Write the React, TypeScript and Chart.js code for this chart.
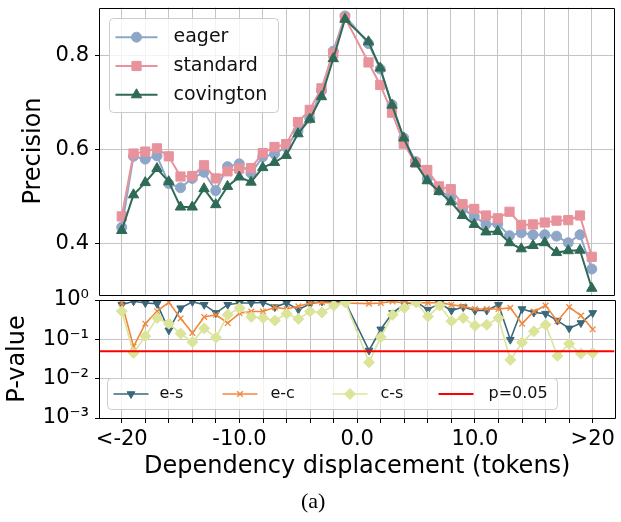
import React, { useEffect, useRef } from 'react';
import { Chart, registerables } from 'chart.js';
import { drawPoint } from 'chart.js/helpers';

Chart.register(...registerables);

// ---------- data ----------
const displacements = [
  -20, -19, -18, -17, -16, -15, -14, -13, -12, -11, -10, -9, -8, -7, -6, -5, -4, -3, -2, -1,
  1, 2, 3, 4, 5, 6, 7, 8, 9, 10, 11, 12, 13, 14, 15, 16, 17, 18, 19, 20,
];

const eagerPrecision = [
  0.434, 0.585, 0.579, 0.586, 0.527, 0.518, 0.538, 0.551, 0.512, 0.563, 0.569, 0.549, 0.584, 0.590, 0.605, 0.639, 0.666, 0.725, 0.809, 0.884,
  0.825, 0.771, 0.695, 0.624, 0.574, 0.537, 0.513, 0.497, 0.473, 0.457, 0.440, 0.441, 0.416, 0.422, 0.418, 0.418, 0.415, 0.401, 0.418, 0.345,
];
const standardPrecision = [
  0.457, 0.591, 0.595, 0.602, 0.585, 0.542, 0.543, 0.566, 0.538, 0.553, 0.559, 0.560, 0.592, 0.605, 0.611, 0.658, 0.684, 0.730, 0.804, 0.880,
  0.785, 0.737, 0.678, 0.612, 0.571, 0.556, 0.521, 0.515, 0.483, 0.473, 0.459, 0.453, 0.467, 0.439, 0.440, 0.444, 0.448, 0.449, 0.459, 0.371,
];
const covingtonPrecision = [
  0.427, 0.503, 0.529, 0.559, 0.531, 0.477, 0.477, 0.516, 0.482, 0.521, 0.541, 0.530, 0.561, 0.572, 0.587, 0.633, 0.664, 0.712, 0.793, 0.877,
  0.829, 0.773, 0.694, 0.624, 0.570, 0.533, 0.510, 0.488, 0.459, 0.440, 0.424, 0.425, 0.401, 0.388, 0.395, 0.401, 0.380, 0.384, 0.385, 0.304,
];

const pEagerStandard = [
  0.76, 0.93, 0.84, 0.80, 0.17, 0.62, 0.90, 0.76, 0.47, 0.76, 0.84, 0.84, 0.87, 0.66, 0.84, 0.57, 0.80, 0.92, 0.92, 0.87,
  0.052, 0.18, 0.47, 0.78, 0.90, 0.57, 0.82, 0.54, 0.66, 0.54, 0.54, 0.76, 0.098, 0.59, 0.48, 0.45, 0.30, 0.19, 0.26, 0.47,
];
const pEagerCovington = [
  0.85, 0.065, 0.25, 0.52, 0.87, 0.34, 0.145, 0.37, 0.42, 0.26, 0.46, 0.51, 0.51, 0.65, 0.59, 0.69, 0.84, 0.87, 0.84, 0.84,
  0.81, 0.84, 0.92, 0.84, 0.87, 0.84, 0.87, 0.76, 0.69, 0.59, 0.59, 0.59, 0.63, 0.25, 0.51, 0.72, 0.29, 0.66, 0.40, 0.18,
];
const pCovingtonStandard = [
  0.52, 0.045, 0.12, 0.35, 0.25, 0.14, 0.085, 0.19, 0.11, 0.42, 0.63, 0.37, 0.35, 0.30, 0.45, 0.33, 0.51, 0.48, 0.72, 0.87,
  0.026, 0.114, 0.42, 0.63, 0.87, 0.38, 0.72, 0.29, 0.35, 0.22, 0.235, 0.35, 0.030, 0.083, 0.16, 0.235, 0.038, 0.077, 0.043, 0.045,
];
const significanceLevel = 0.05;

const xGridTicks = [-20, -18, -16, -14, -12, -10, -8, -6, -4, -2, 0, 2, 4, 6, 8, 10, 12, 14, 16, 18, 20];
const xLabelTicks = [-20, -10, 0, 10, 20];
const xTickLabels = ['<-20', '-10.0', '0.0', '10.0', '>20'];
const precisionTicks = [0.4, 0.6, 0.8];
const pValueTicks = [1, 0.1, 0.01, 0.001];
const pValueTickLabels = ['10\u2070', '10\u207B\u00B9', '10\u207B\u00B2', '10\u207B\u00B3'];

// ---------- style ----------
const FONT = 'DejaVu Sans';
const GRID = '#c4c4c4';
const C = {
  eager: '#8ea7c8',
  standard: '#e8929c',
  covington: '#2f6a56',
  es: '#3a687a',
  ec: '#f0883c',
  cs: '#dce49a',
  red: '#ff0000',
};
const X_MIN = -21.85;
const X_MAX = 21.85;

const pts = (vals: number[]) => displacements.map((x, i) => ({ x, y: vals[i] }));

type LegendItem = {
  label: string;
  color: string;
  pointStyle?: string;
  rotation?: number;
  radius?: number;
  lineWidth: number;
  pointBorder?: number;
  hx: number;
  hlen: number;
  tx: number;
  ty: number;
};

type LegendCfg = {
  fromBottom: boolean;
  dx: number;
  dy: number;
  width: number;
  height: number;
  fontSize: number;
  items: LegendItem[];
};

function roundRectPath(ctx: CanvasRenderingContext2D, x: number, y: number, w: number, h: number, r: number) {
  ctx.beginPath();
  ctx.moveTo(x + r, y);
  ctx.lineTo(x + w - r, y);
  ctx.arcTo(x + w, y, x + w, y + r, r);
  ctx.lineTo(x + w, y + h - r);
  ctx.arcTo(x + w, y + h, x + w - r, y + h, r);
  ctx.lineTo(x + r, y + h);
  ctx.arcTo(x, y + h, x, y + h - r, r);
  ctx.lineTo(x, y + r);
  ctx.arcTo(x, y, x + r, y, r);
  ctx.closePath();
}

function makeLegendPlugin(id: string, cfg: LegendCfg) {
  return {
    id,
    afterDraw(chart: any) {
      const ctx: CanvasRenderingContext2D = chart.ctx;
      const ca = chart.chartArea;
      const bx = Math.round(ca.left + cfg.dx) + 0.5;
      const by = cfg.fromBottom
        ? Math.round(ca.bottom - cfg.dy - cfg.height) + 0.5
        : Math.round(ca.top + cfg.dy) + 0.5;
      ctx.save();
      roundRectPath(ctx, bx, by, cfg.width, cfg.height, 4);
      ctx.fillStyle = 'rgba(255,255,255,0.8)';
      ctx.fill();
      ctx.strokeStyle = '#cccccc';
      ctx.lineWidth = 1;
      ctx.stroke();
      for (const it of cfg.items) {
        const y = by + it.ty;
        const x0 = bx + it.hx;
        ctx.strokeStyle = it.color;
        ctx.fillStyle = it.color;
        ctx.lineWidth = it.lineWidth;
        ctx.beginPath();
        ctx.moveTo(x0, y);
        ctx.lineTo(x0 + it.hlen, y);
        ctx.stroke();
        if (it.pointStyle) {
          ctx.lineWidth = it.pointBorder ?? 1;
          drawPoint(ctx, {
            pointStyle: it.pointStyle,
            rotation: it.rotation ?? 0,
            radius: it.radius ?? 4,
            borderWidth: it.pointBorder ?? 1,
          } as any, x0 + it.hlen / 2, y);
        }
        ctx.fillStyle = '#111';
        ctx.font = `${cfg.fontSize}px "${FONT}"`;
        ctx.textBaseline = 'middle';
        ctx.textAlign = 'left';
        ctx.fillText(it.label, bx + it.tx, y);
      }
      ctx.restore();
    },
  };
}

const framePlugin = {
  id: 'mplFrame',
  afterDatasetsDraw(chart: any) {
    const ctx: CanvasRenderingContext2D = chart.ctx;
    const ca = chart.chartArea;
    const l = Math.round(ca.left) - 0.5;
    const r = Math.round(ca.right) + 0.5;
    const t = Math.round(ca.top) + 0.5;
    const b = Math.round(ca.bottom) + 0.5;
    ctx.save();
    ctx.strokeStyle = '#000';
    ctx.lineWidth = 1;
    ctx.beginPath();
    ctx.moveTo(l, t);
    ctx.lineTo(r, t);
    ctx.lineTo(r, b);
    ctx.lineTo(l, b);
    ctx.closePath();
    ctx.stroke();
    ctx.restore();
  },
};

function xScale(showLabels: boolean): any {
  return {
    type: 'linear',
    min: X_MIN,
    max: X_MAX,
    afterBuildTicks: (s: any) => {
      s.ticks = xGridTicks.map((v) => ({ value: v }));
    },
    afterFit: (s: any) => {
      s.height = showLabels ? 104 : 2;
      s.paddingLeft = 0;
      s.paddingRight = 0;
    },
    ticks: {
      display: showLabels,
      autoSkip: false,
      maxRotation: 0,
      minRotation: 0,
      padding: 4,
      color: '#000',
      font: { family: FONT, size: 21 },
      callback: (v: number) => {
        const i = xLabelTicks.indexOf(v);
        return i >= 0 ? xTickLabels[i] : '';
      },
    },
    grid: { color: GRID, lineWidth: 1, drawTicks: showLabels, tickLength: 5, tickColor: '#000', tickWidth: 1 },
    border: { display: false },
    title: showLabels
      ? {
          display: true,
          text: 'Dependency displacement (tokens)',
          color: '#000',
          font: { family: FONT, size: 24 },
          padding: { top: 0, bottom: 41 },
        }
      : { display: false },
  };
}

function yFit(s: any) {
  s.width = 100;
  s.paddingTop = 0;
  s.paddingBottom = 0;
}

export default function App() {
  const topRef = useRef<HTMLCanvasElement>(null);
  const botRef = useRef<HTMLCanvasElement>(null);

  useEffect(() => {
    const topChart = new Chart(topRef.current as HTMLCanvasElement, {
      type: 'line',
      data: {
        datasets: [
          {
            label: 'eager',
            data: pts(eagerPrecision),
            borderColor: C.eager,
            backgroundColor: C.eager,
            borderWidth: 2,
            pointStyle: 'circle',
            pointRadius: 5,
            pointBorderWidth: 1,
            order: 3,
          },
          {
            label: 'standard',
            data: pts(standardPrecision),
            borderColor: C.standard,
            backgroundColor: C.standard,
            borderWidth: 2,
            pointStyle: 'rect',
            pointRadius: 6.5,
            pointBorderWidth: 1,
            order: 2,
          },
          {
            label: 'covington',
            data: pts(covingtonPrecision),
            borderColor: C.covington,
            backgroundColor: C.covington,
            borderWidth: 2,
            pointStyle: 'triangle',
            pointRadius: 6,
            pointBorderWidth: 1,
            order: 1,
          },
        ],
      },
      options: {
        animation: false,
        responsive: false,
        devicePixelRatio: 1,
        layout: { padding: { left: 0, right: 2, top: 2, bottom: 0 } },
        elements: { line: { tension: 0 } },
        plugins: { legend: { display: false }, tooltip: { enabled: false }, title: { display: false } },
        scales: {
          x: xScale(false),
          y: {
            type: 'linear',
            min: 0.2907,
            max: 0.902,
            afterBuildTicks: (s: any) => {
              s.ticks = precisionTicks.map((v) => ({ value: v }));
            },
            afterFit: yFit,
            ticks: {
              autoSkip: false,
              padding: 6,
              color: '#000',
              font: { family: FONT, size: 21 },
              callback: (v: number) => v.toFixed(1),
            },
            grid: { color: GRID, lineWidth: 1, drawTicks: true, tickLength: 5, tickColor: '#000' },
            border: { display: false },
            title: {
              display: true,
              text: 'Precision',
              color: '#000',
              font: { family: FONT, size: 24 },
              padding: { top: 19, bottom: 0 },
            },
          },
        },
      } as any,
      plugins: [
        framePlugin,
        makeLegendPlugin('topLegend', {
          fromBottom: false,
          dx: 9,
          dy: 10,
          width: 169,
          height: 94,
          fontSize: 19,
          items: [
            { label: 'eager', color: C.eager, pointStyle: 'circle', radius: 5, lineWidth: 2, hx: 6, hlen: 42, tx: 64, ty: 18.7 },
            { label: 'standard', color: C.standard, pointStyle: 'rect', radius: 6.5, lineWidth: 2, hx: 6, hlen: 42, tx: 64, ty: 47.5 },
            { label: 'covington', color: C.covington, pointStyle: 'triangle', radius: 6, lineWidth: 2, hx: 6, hlen: 42, tx: 64, ty: 76.3 },
          ],
        }),
      ],
    });

    const botChart = new Chart(botRef.current as HTMLCanvasElement, {
      type: 'line',
      data: {
        datasets: [
          {
            label: 'e-s',
            data: pts(pEagerStandard),
            borderColor: C.es,
            backgroundColor: C.es,
            borderWidth: 1.6,
            pointStyle: 'triangle',
            rotation: 180,
            pointRadius: 4.5,
            pointBorderWidth: 1,
            order: 4,
          },
          {
            label: 'e-c',
            data: pts(pEagerCovington),
            borderColor: C.ec,
            backgroundColor: C.ec,
            borderWidth: 1.6,
            pointStyle: 'crossRot',
            pointRadius: 4,
            pointBorderWidth: 1.3,
            order: 3,
          },
          {
            label: 'c-s',
            data: pts(pCovingtonStandard),
            borderColor: C.cs,
            backgroundColor: C.cs,
            borderWidth: 1.6,
            pointStyle: 'rectRot',
            pointRadius: 5.5,
            pointBorderWidth: 1,
            order: 2,
          },
          {
            label: 'p=0.05',
            data: [
              { x: X_MIN, y: significanceLevel },
              { x: X_MAX, y: significanceLevel },
            ],
            borderColor: C.red,
            backgroundColor: C.red,
            borderWidth: 2,
            pointRadius: 0,
            order: 1,
          },
        ],
      },
      options: {
        animation: false,
        responsive: false,
        devicePixelRatio: 1,
        layout: { padding: { left: 0, right: 2, top: 20, bottom: 0 } },
        elements: { line: { tension: 0 } },
        plugins: { legend: { display: false }, tooltip: { enabled: false }, title: { display: false } },
        scales: {
          x: xScale(true),
          y: {
            type: 'logarithmic',
            min: 0.001,
            max: 1,
            afterBuildTicks: (s: any) => {
              s.ticks = pValueTicks.map((v) => ({ value: v }));
            },
            afterFit: yFit,
            ticks: {
              autoSkip: false,
              padding: 6,
              color: '#000',
              font: { family: FONT, size: 21 },
              callback: (v: number) => {
                const i = pValueTicks.indexOf(v);
                return i >= 0 ? pValueTickLabels[i] : '';
              },
            },
            grid: { color: GRID, lineWidth: 1, drawTicks: true, tickLength: 5, tickColor: '#000' },
            border: { display: false },
            title: {
              display: true,
              text: 'P-value',
              color: '#000',
              font: { family: FONT, size: 24 },
              padding: { top: 3, bottom: 0 },
            },
          },
        },
      } as any,
      plugins: [
        framePlugin,
        makeLegendPlugin('botLegend', {
          fromBottom: true,
          dx: 7,
          dy: 9,
          width: 450,
          height: 31,
          fontSize: 16,
          items: [
            { label: 'e-s', color: C.es, pointStyle: 'triangle', rotation: 180, radius: 4.5, lineWidth: 1.6, hx: 6, hlen: 35, tx: 52, ty: 15.5 },
            { label: 'e-c', color: C.ec, pointStyle: 'crossRot', radius: 4, pointBorder: 1.3, lineWidth: 1.6, hx: 115, hlen: 35, tx: 163, ty: 15.5 },
            { label: 'c-s', color: C.cs, pointStyle: 'rectRot', radius: 5.5, lineWidth: 1.6, hx: 225, hlen: 35, tx: 273, ty: 15.5 },
            { label: 'p=0.05', color: C.red, lineWidth: 2, hx: 331, hlen: 35, tx: 381, ty: 15.5 },
          ],
        }),
      ],
    });

    return () => {
      topChart.destroy();
      botChart.destroy();
    };
  }, []);

  return (
    <div style={{ position: 'fixed', left: 0, top: 0, width: 621, height: 522, background: '#fff', overflow: 'hidden' }}>
      <canvas ref={topRef} width={621} height={302} style={{ position: 'absolute', left: 0, top: 0, width: 621, height: 302 }} />
      <canvas ref={botRef} width={621} height={242} style={{ position: 'absolute', left: 0, top: 280, width: 621, height: 242 }} />
      <div
        style={{
          position: 'absolute',
          left: 301,
          top: 490,
          fontFamily: '"Liberation Serif", serif',
          fontSize: 22,
          lineHeight: '22px',
          color: '#000',
          whiteSpace: 'nowrap',
        }}
      >
        (a)
      </div>
    </div>
  );
}
